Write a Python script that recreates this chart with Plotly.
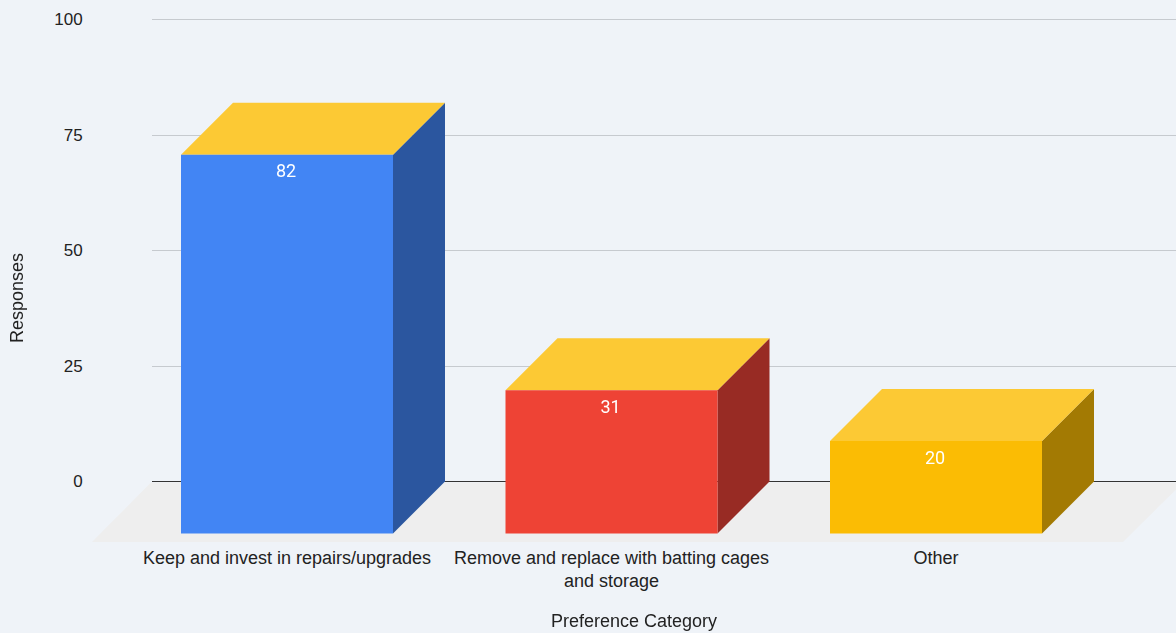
import plotly.graph_objects as go

categories = ["Keep and invest in repairs/upgrades",
              "Remove and replace with batting cages<br>and storage",
              "Other"]
values = [82, 31, 20]
y_ticks = [0, 25, 50, 75, 100]
front_colors = ["#4285f4", "#ee4335", "#fbbc04"]
side_colors = ["#2b569f", "#982b24", "#a37a03"]
top_color = "#fcc934"
bg = "#eff3f8"

W, H = 1176, 633
FONT = "Liberation Sans"
# scale of the drawing, in pixels
PX_X0, PX_CAT = 287.0, 324.5      # first bar's front centre, spacing between bars
PX_Y0, PX_UNIT = 481.5, 4.62      # value 0 baseline, pixels per response
PX_DEPTH, PX_HALF = 52.0, 106.0   # 3D depth, half of a bar's width
PLOT_L, PLOT_B = 92, 542
DX, DY = PX_DEPTH / PX_CAT, PX_DEPTH / PX_UNIT
HALF = PX_HALF / PX_CAT
Y_TOP = 102  # keeps the 100 gridline inside the axis


def xu(px):
    return (px - PX_X0) / PX_CAT


def yu(px):
    return (PX_Y0 - px) / PX_UNIT


def poly(xs, ys, color, name):
    return go.Scatter(x=xs + xs[:1], y=ys + ys[:1], mode="lines", fill="toself",
                      fillcolor=color, line=dict(width=0), hoverinfo="skip",
                      showlegend=False, name=name, xaxis="x2", yaxis="y2")


fig = go.Figure()
# carries the back-wall axis (gridlines and value ticks)
fig.add_trace(go.Scatter(x=[0, 1], y=[0, 100], mode="markers", opacity=0, hoverinfo="skip",
                         showlegend=False, xaxis="x", yaxis="y"))
# floor, starting just below the baseline so the zero line stays visible
fy = yu(PLOT_B)
fb = yu(PX_Y0 + 1)
fig.add_trace(poly([xu(151), xu(1183), xu(1123), xu(92)], [fb, fb, fy, fy], "#eeeeee", "floor"))

for i, v in enumerate(values):
    l, r = i - HALF, i + HALF
    base, top = -DY, v - DY
    fig.add_trace(poly([r, r + DX, r + DX, r], [base, 0, v, top], side_colors[i], "side"))
    fig.add_trace(poly([l, l + DX, r + DX, r], [top, v, v, top], top_color, "top"))
    fig.add_trace(poly([l, r, r, l], [base, base, top, top], front_colors[i], "front"))

fig.add_trace(go.Scatter(x=[i - 0.003 for i in range(len(values))],
                         y=[v - DY - 2.0 for v in values],
                         text=[str(v) for v in values], mode="text", textposition="bottom center",
                         textfont=dict(family="Roboto", size=18, color="#ffffff"),
                         hoverinfo="skip", showlegend=False, xaxis="x2", yaxis="y2"))

plot_w, plot_h = W - PLOT_L, PLOT_B
y_top_px = PX_Y0 - Y_TOP * PX_UNIT
fig.update_layout(
    width=W, height=H, autosize=False,
    margin=dict(l=PLOT_L, r=0, t=0, b=H - PLOT_B, pad=0, autoexpand=False),
    paper_bgcolor=bg, plot_bgcolor="rgba(0,0,0,0)",
    font=dict(family=FONT, size=18, color="#222222"),
    xaxis=dict(domain=[(152 - PLOT_L) / plot_w, 1], range=[0, 1], visible=False, anchor="y",
               automargin=False),
    yaxis=dict(domain=[(PLOT_B - PX_Y0) / plot_h, (PLOT_B - y_top_px) / plot_h], range=[0, Y_TOP],
               tickvals=y_ticks, ticks="outside", ticklen=65, tickcolor="rgba(0,0,0,0)",
               tickfont=dict(size=17, color="#222222"),
               showgrid=True, gridcolor="#c6cacf", gridwidth=1.4,
               zeroline=True, zerolinecolor="#333333", zerolinewidth=1.4,
               showline=False, anchor="x", automargin=False),
    xaxis2=dict(domain=[0, 1], range=[xu(PLOT_L), xu(W)], anchor="y2", automargin=False,
                tickvals=list(range(len(categories))), ticktext=categories,
                ticks="", ticklabelstandoff=3,
                tickfont=dict(size=18, color="#222222"),
                showgrid=False, zeroline=False, showline=False,
                title=dict(text="Preference Category", standoff=23,
                           font=dict(size=18, color="#222222"))),
    yaxis2=dict(domain=[0, (PLOT_B - 54) / plot_h], range=[yu(PLOT_B), yu(54)],
                anchor="x2", showticklabels=False, ticks="", showgrid=False, zeroline=False,
                showline=False, automargin=False,
                title=dict(text="Responses", standoff=62,
                           font=dict(size=18, color="#222222"))),
)
fig.write_html("out.html", post_script="document.body.style.margin='0';",
               config={"displayModeBar": False})
